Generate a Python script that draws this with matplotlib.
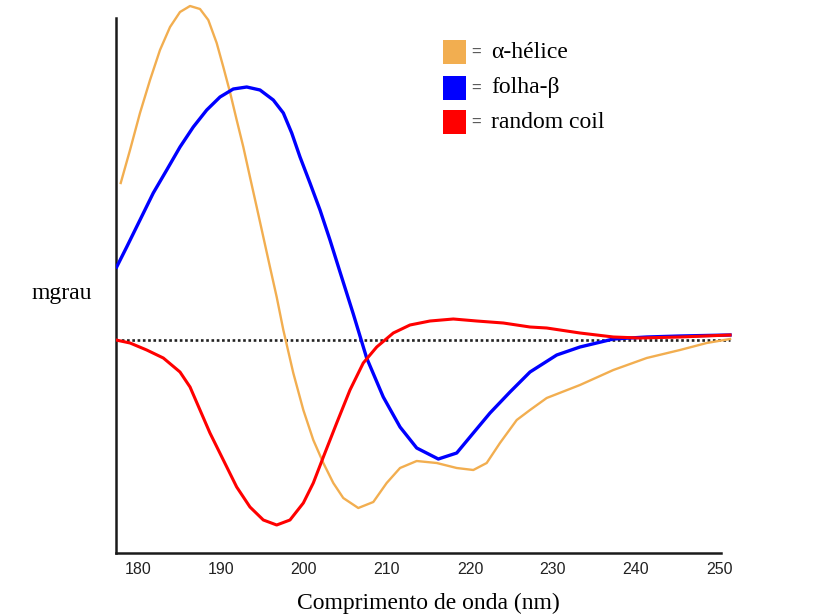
import matplotlib.pyplot as plt
from matplotlib.patches import Rectangle

# Dados (comprimento de onda em nm, sinal em mgrau, unidades arbitrárias)
nm_helice = [177.92, 179.04, 180.24, 181.45, 182.65, 183.86, 185.06, 186.27, 187.47, 188.47,
             189.48, 190.28, 191.08, 191.89, 192.69, 193.49, 194.30, 195.10, 195.90, 196.71,
             197.51, 198.71, 199.92, 201.12, 202.33, 203.53, 204.73, 206.54, 208.35, 209.96,
             211.57, 213.58, 215.99, 218.40, 220.40, 222.01, 223.61, 225.63, 227.23, 229.24,
             233.25, 237.27, 241.29, 245.30, 248.52, 251.33]
mg_helice = [15.7, 19.0, 22.7, 26.0, 29.0, 31.3, 32.8, 33.4, 33.1, 32.0,
             29.7, 27.3, 24.8, 22.0, 19.3, 16.3, 13.3, 10.3, 7.3, 4.3,
             1.0, -3.3, -7.0, -10.0, -12.3, -14.3, -15.8, -16.8, -16.2, -14.3,
             -12.8, -12.1, -12.3, -12.8, -13.0, -12.3, -10.3, -8.0, -7.0, -5.8,
             -4.5, -3.0, -1.8, -1.0, -0.3, 0.1]

nm_folha = [177.43, 178.64, 180.24, 181.84, 183.46, 185.06, 186.66, 188.28, 189.88, 191.48,
            193.10, 194.70, 196.30, 197.51, 198.52, 199.52, 200.72, 201.93, 203.13, 204.34,
            205.14, 205.94, 207.55, 209.55, 211.57, 213.58, 216.18, 218.40, 220.40, 222.41,
            224.82, 227.23, 230.45, 233.25, 237.27, 241.29, 245.30, 251.33]
mg_folha = [7.3, 9.3, 12.0, 14.7, 17.0, 19.3, 21.3, 23.0, 24.3, 25.1,
            25.3, 25.0, 24.0, 22.7, 20.7, 18.3, 15.7, 13.0, 10.0, 6.8,
            4.7, 2.6, -1.8, -5.7, -8.7, -10.8, -11.9, -11.3, -9.3, -7.3,
            -5.2, -3.2, -1.5, -0.7, 0.1, 0.3, 0.4, 0.5]

nm_coil = [177.35, 179.04, 181.05, 183.05, 185.06, 186.27, 187.47, 188.67, 190.28, 191.89,
           193.49, 195.10, 196.71, 198.31, 199.92, 201.12, 202.33, 203.94, 205.54, 207.14,
           208.76, 210.76, 212.77, 215.18, 217.99, 220.81, 224.01, 227.23, 229.24, 233.25,
           237.27, 240.48, 245.30, 251.33]
mg_coil = [0.0, -0.3, -1.0, -1.8, -3.2, -4.7, -7.0, -9.3, -12.0, -14.7,
           -16.7, -18.0, -18.5, -18.0, -16.3, -14.3, -11.7, -8.3, -5.0, -2.3,
           -0.7, 0.7, 1.5, 1.9, 2.1, 1.9, 1.7, 1.3, 1.2, 0.7,
           0.3, 0.2, 0.3, 0.5]

ticks_nm = [180, 190, 200, 210, 220, 230, 240, 250]

cor_helice = "#f2ae50"
cor_folha = "#0000ff"
cor_coil = "#ff0000"

W, H = 835, 614
fig = plt.figure(figsize=(W / 100, H / 100), dpi=100)
ax = fig.add_axes([116 / W, (H - 552.7) / H, (740 - 116) / W, 552.7 / H])

# linha do zero pontilhada
ax.plot([nm_coil[0], nm_coil[-1]], [0, 0], color="#222222", lw=1.9,
        linestyle=(0, (1, 1)), zorder=1)

ax.plot(nm_helice, mg_helice, color=cor_helice, lw=1.7, solid_joinstyle="round", zorder=2)
ax.plot(nm_folha, mg_folha, color=cor_folha, lw=2.4, solid_joinstyle="round", zorder=3)
ax.plot(nm_coil, mg_coil, color=cor_coil, lw=2.2, solid_joinstyle="round", zorder=4)

ax.set_xlim(177.35, 252.53)
ax.set_ylim(-21.27, 34.0)
ax.set_xticks(ticks_nm)
ax.set_xticklabels([str(t) for t in ticks_nm], fontfamily="Liberation Sans",
                   fontsize=11.5, color="#222222")
ax.set_yticks([])
ax.tick_params(axis="x", length=0, pad=7)

for s in ["top", "right"]:
    ax.spines[s].set_visible(False)
for s in ["left", "bottom"]:
    ax.spines[s].set_linewidth(1.8)
    ax.spines[s].set_color("#1a1a1a")
ax.spines["left"].set_bounds(-21.27, 32.2)
ax.spines["bottom"].set_bounds(177.35, 250.2)
ax.patch.set_alpha(0)

ax.set_xlabel("Comprimento de onda (nm)", fontfamily="Liberation Serif",
              fontsize=17, labelpad=11)
fig.text(61.7 / W, 1 - 293 / H, "mgrau", fontfamily="Liberation Serif",
         fontsize=17, ha="center", va="center")

# legenda manual
itens = [(cor_helice, "α-hélice", 52), (cor_folha, "folha-β", 88), (cor_coil, "random coil", 122)]
for cor, rotulo, yc in itens:
    fig.patches.append(Rectangle((443 / W, 1 - (yc + 12) / H), 23 / W, 24 / H,
                                 transform=fig.transFigure, facecolor=cor,
                                 edgecolor="none"))
    fig.text(476 / W, 1 - yc / H, "=", fontfamily="Liberation Sans", fontsize=12,
             color="#555555", ha="center", va="center")
    fig.text(491 / W, 1 - yc / H, rotulo, fontfamily="Liberation Serif", fontsize=17,
             ha="left", va="center")

fig.savefig("out.png", dpi=100)
